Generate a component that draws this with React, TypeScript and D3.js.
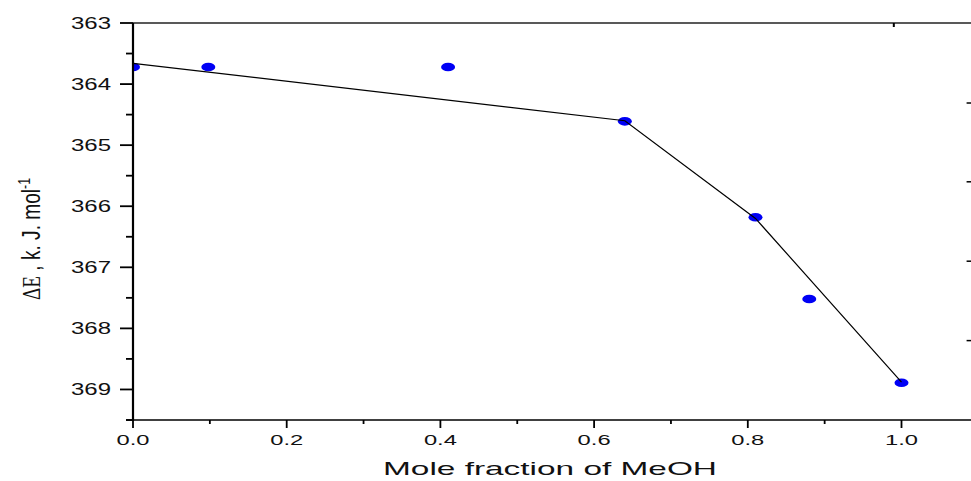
import React, { useEffect, useRef } from 'react'
import * as d3 from 'd3'

// mole fraction of MeOH and delta E (k.J/mol)
const molFraction = [0.0, 0.098, 0.41, 0.64, 0.81, 0.88, 1.0]
const deltaE = [363.72, 363.72, 363.72, 364.61, 366.18, 367.52, 368.89]

// broken line fitted through the data
const fitX = [0.0, 0.64, 0.81, 1.0]
const fitY = [363.66, 364.6, 366.2, 368.88]

const yMajorTicks = [363, 364, 365, 366, 367, 368, 369]
const yMinorTicks = [363.5, 364.5, 365.5, 366.5, 367.5, 368.5, 369.5]
const xMajorTicks = [0.0, 0.2, 0.4, 0.6, 0.8, 1.0]
const xMinorTicks = [0.1, 0.3, 0.5, 0.7, 0.9]
const topTicks = [0.99]
const rightTicks = [364.31, 365.6, 366.9, 368.2]

const W = 971
const H = 481

function App() {
  const ref = useRef<SVGSVGElement>(null)

  useEffect(() => {
    const svg = d3.select(ref.current)
    svg.selectAll('*').remove()

    const left = 133, top = 23, bottom = 420
    const xMax = 1.0925
    const x = d3.scaleLinear().domain([0, xMax]).range([left, left + xMax * 768.5])
    const y = d3.scaleLinear().domain([363, 369.5]).range([top, bottom])
    const right = x(xMax)

    svg.append('clipPath').attr('id', 'plot-clip')
      .append('rect')
      .attr('x', left).attr('y', top)
      .attr('width', right - left).attr('height', bottom - top)

    const plot = svg.append('g').attr('clip-path', 'url(#plot-clip)')

    // points
    plot.selectAll('ellipse')
      .data(molFraction)
      .enter().append('ellipse')
      .attr('cx', d => x(d))
      .attr('cy', (d, i) => y(deltaE[i]))
      .attr('rx', 7)
      .attr('ry', 4.3)
      .attr('fill', '#0000f5')

    // fit line
    plot.append('path')
      .datum(fitX.map((v, i) => [v, fitY[i]] as [number, number]))
      .attr('fill', 'none')
      .attr('stroke', '#000')
      .attr('stroke-width', 1.2)
      .attr('d', d3.line<[number, number]>().x(d => x(d[0])).y(d => y(d[1])))

    const font = '"Liberation Sans", Arial, sans-serif'

    // frame: top + right (right edge sits at the picture border)
    svg.append('line').attr('x1', left).attr('x2', right).attr('y1', top).attr('y2', top)
      .attr('stroke', '#222').attr('stroke-width', 1.5)
    svg.append('line').attr('x1', right).attr('x2', right).attr('y1', top).attr('y2', bottom)
      .attr('stroke', '#222').attr('stroke-width', 1.5)
    svg.selectAll('.ttick').data(topTicks).enter().append('line')
      .attr('x1', d => x(d)).attr('x2', d => x(d)).attr('y1', top).attr('y2', top + 4)
      .attr('stroke', '#000').attr('stroke-width', 2)
    svg.selectAll('.rtick').data(rightTicks).enter().append('line')
      .attr('x1', right - 6).attr('x2', right).attr('y1', d => y(d)).attr('y2', d => y(d))
      .attr('stroke', '#000').attr('stroke-width', 1.5)

    // bottom axis
    svg.append('line').attr('x1', left - 7).attr('x2', right).attr('y1', bottom).attr('y2', bottom)
      .attr('stroke', '#000').attr('stroke-width', 1.5)
    svg.selectAll('.xmaj').data(xMajorTicks).enter().append('line')
      .attr('x1', d => x(d)).attr('x2', d => x(d)).attr('y1', bottom).attr('y2', bottom + 8)
      .attr('stroke', '#000').attr('stroke-width', 1.8)
    svg.selectAll('.xmin').data(xMinorTicks).enter().append('line')
      .attr('x1', d => x(d)).attr('x2', d => x(d)).attr('y1', bottom).attr('y2', bottom + 4)
      .attr('stroke', '#000').attr('stroke-width', 1.8)
    svg.selectAll('.xlab').data(xMajorTicks).enter().append('text')
      .attr('x', d => x(d)).attr('y', 445)
      .attr('text-anchor', 'middle')
      .attr('font-family', font).attr('font-size', 14)
      .attr('textLength', 33).attr('lengthAdjust', 'spacingAndGlyphs')
      .attr('fill', '#111')
      .text(d => d3.format('.1f')(d))

    // left axis
    svg.append('line').attr('x1', left).attr('x2', left).attr('y1', top).attr('y2', bottom + 1)
      .attr('stroke', '#000').attr('stroke-width', 2.2)
    svg.selectAll('.ymaj').data(yMajorTicks).enter().append('line')
      .attr('x1', left - 13).attr('x2', left).attr('y1', d => y(d)).attr('y2', d => y(d))
      .attr('stroke', '#000').attr('stroke-width', 1.8)
    svg.selectAll('.ymin').data(yMinorTicks).enter().append('line')
      .attr('x1', left - 7).attr('x2', left).attr('y1', d => y(d)).attr('y2', d => y(d))
      .attr('stroke', '#000').attr('stroke-width', 1.8)
    svg.selectAll('.ylab').data(yMajorTicks).enter().append('text')
      .attr('x', 111).attr('y', d => y(d) + 5.5)
      .attr('text-anchor', 'end')
      .attr('font-family', font).attr('font-size', 16)
      .attr('textLength', 40).attr('lengthAdjust', 'spacingAndGlyphs')
      .attr('fill', '#111')
      .text(d => d)

    // axis titles
    svg.append('text')
      .attr('x', 550).attr('y', 475)
      .attr('text-anchor', 'middle')
      .attr('font-family', font).attr('font-size', 19)
      .attr('textLength', 334).attr('lengthAdjust', 'spacingAndGlyphs')
      .attr('fill', '#111')
      .text('Mole fraction of MeOH')

    const yt = svg.append('text')
      .attr('transform', 'translate(40,239) rotate(-90)')
      .attr('text-anchor', 'middle')
      .attr('font-family', font).attr('font-size', 25)
      .attr('textLength', 122).attr('lengthAdjust', 'spacingAndGlyphs')
      .attr('fill', '#111')
    yt.append('tspan').attr('font-family', '"Liberation Serif", "Times New Roman", serif').text('ΔE')
    yt.append('tspan').text(' , k. J. mol')
    yt.append('tspan').attr('font-size', 16).attr('dy', -10).text('-1')
  }, [])

  return (
    <svg ref={ref} width={W} height={H}
      style={{ position: 'absolute', left: 0, top: 0, background: '#fff' }} />
  )
}

export default App
